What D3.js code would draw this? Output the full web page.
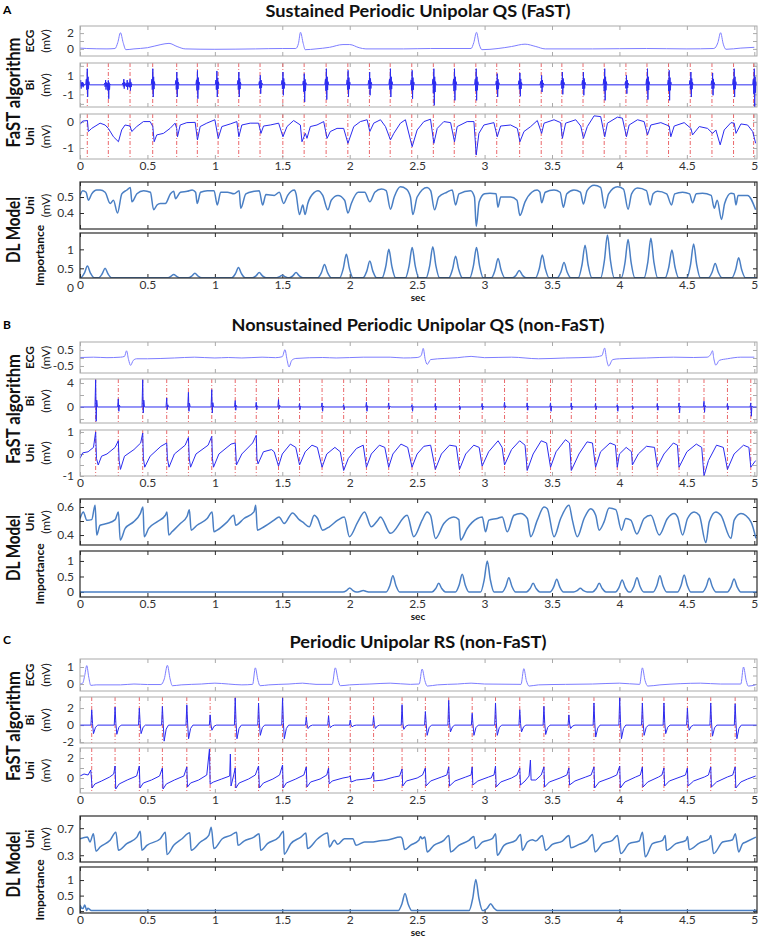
<!DOCTYPE html>
<html>
<head>
<meta charset="utf-8">
<script src="https://cdn.jsdelivr.net/npm/d3@7"></script>
<style>
  body { margin: 0; background: #fff; }
  svg text { font-family: Lato, "Open Sans", sans-serif; }
</style>
</head>
<body>
<svg id="fig" width="760" height="938"></svg>
<script>
// ---------- shared axis data ----------
var timeTicks = [0, 0.5, 1, 1.5, 2, 2.5, 3, 3.5, 4, 4.5, 5];
var timeLabels = ["0", "0.5", "1", "1.5", "2", "2.5", "3", "3.5", "4", "4.5", "5"];

// ---------- panel A : sustained periodic unipolar QS ----------
var titleA = "Sustained Periodic Unipolar QS (FaST)";
var ecgA = [[0,0.1],[0.05,0.05],[0.2,0],[0.26,0.05],[0.28,0.8],[0.3,2.05],[0.32,0.8],[0.34,-0.1],[0.4,0],[0.5,0.15],[0.6,0.55],[0.66,0.7],[0.72,0.3],[0.78,0],[1.0,-0.05],[1.3,0],[1.5,0.05],[1.6,0.05],[1.62,0.7],[1.635,2.1],[1.655,0.7],[1.67,-0.1],[1.75,0],[1.85,0.2],[1.95,0.55],[2.0,0.55],[2.07,0.15],[2.12,0],[2.4,0],[2.6,0.05],[2.9,0.05],[2.92,0.8],[2.94,2.1],[2.96,0.6],[2.98,-0.1],[3.1,0.05],[3.2,0.3],[3.3,0.6],[3.38,0.3],[3.45,0],[3.8,0],[4.2,0.05],[4.5,0],[4.7,0.05],[4.73,0.8],[4.75,2.05],[4.77,0.6],[4.79,-0.05],[4.9,0.1],[5.0,0.2]];
var actA = [0.054,0.21,0.371,0.539,0.717,0.87,1.024,1.177,1.335,1.504,1.662,1.825,1.986,2.146,2.3,2.46,2.62,2.775,2.935,3.09,3.26,3.42,3.573,3.73,3.887,4.048,4.204,4.364,4.525,4.686,4.846,4.995];
// bipolar deflections: [time, max, min]
var biA = [[0.005,0.5,-0.4],[0.02,0.3,-0.25],[0.054,1.7,-1.28],[0.19,0.5,-0.5],[0.21,0.47,-1.46],[0.325,0.6,-0.4],[0.35,0.5,-0.5],[0.371,0.6,-0.6],[0.54,1.7,-1.28],[0.718,1.35,-1.28],[0.871,1.53,-1.46],[1.015,1.46,-1.28],[1.178,1.35,-1.28],[1.337,1.0,-0.93],[1.505,1.35,-1.1],[1.663,1.18,-1.8],[1.827,1.7,-1.55],[1.988,1.53,-1.28],[2.148,1.35,-1.1],[2.302,1.7,-1.28],[2.463,1.53,-1.46],[2.624,1.7,-2.16],[2.777,1.7,-1.63],[2.938,1.7,-1.63],[3.094,1.18,-1.28],[3.262,1.25,-1.2],[3.423,1.0,-0.75],[3.577,1.35,-1.0],[3.733,1.35,-1.1],[3.891,1.7,-1.63],[4.052,1.0,-0.93],[4.208,1.7,-1.55],[4.369,1.53,-1.63],[4.53,1.35,-1.28],[4.691,1.25,-1.1],[4.851,1.7,-1.28],[5.0,1.7,-2.33]];
var uniA = [[0,-0.1],[0.02,0.03],[0.055,0.05],[0.062,-0.37],[0.087,-0.25],[0.149,-0.05],[0.186,-0.12],[0.21,-0.25],[0.248,-0.57],[0.285,-0.76],[0.309,-0.31],[0.334,-0.12],[0.371,-0.16],[0.384,-0.37],[0.421,-0.18],[0.47,0.01],[0.52,0.01],[0.54,-0.18],[0.55,-0.76],[0.569,-0.5],[0.619,-0.44],[0.668,-0.25],[0.705,-0.05],[0.717,-0.25],[0.723,-0.57],[0.743,-0.12],[0.792,-0.03],[0.854,-0.02],[0.871,-0.69],[0.891,-0.18],[0.94,-0.05],[1.0,0.08],[1.025,-0.63],[1.052,-0.18],[1.114,-0.08],[1.163,0.01],[1.178,-0.57],[1.2,-0.12],[1.262,-0.05],[1.324,-0.05],[1.342,-0.44],[1.361,-0.16],[1.411,-0.12],[1.473,-0.05],[1.505,-0.57],[1.535,-0.18],[1.584,0.05],[1.634,-0.12],[1.646,-0.76],[1.671,-0.44],[1.683,-0.63],[1.708,-0.18],[1.757,-0.12],[1.807,0.01],[1.832,-0.63],[1.856,-0.37],[1.906,-0.25],[1.955,-0.25],[1.987,-0.82],[2.03,-0.18],[2.079,0.01],[2.129,0.08],[2.149,-0.37],[2.178,-0.05],[2.228,0.08],[2.265,-0.18],[2.302,-0.69],[2.327,-0.44],[2.376,-0.05],[2.413,0.08],[2.463,-0.95],[2.5,-0.31],[2.55,0.01],[2.599,0.1],[2.624,-0.82],[2.649,-0.25],[2.698,0.01],[2.748,-0.03],[2.777,-0.76],[2.797,-0.18],[2.871,0.01],[2.921,0.01],[2.938,-1.27],[2.958,-0.44],[2.995,-0.12],[3.069,-0.03],[3.094,-0.57],[3.119,-0.16],[3.193,-0.12],[3.243,-0.25],[3.262,-0.76],[3.292,-0.37],[3.342,-0.18],[3.391,0.05],[3.423,-0.44],[3.441,-0.05],[3.515,0.08],[3.564,-0.03],[3.577,-0.63],[3.601,-0.05],[3.676,0.08],[3.713,-0.16],[3.733,-0.63],[3.762,-0.18],[3.812,0.23],[3.861,0.2],[3.891,-0.57],[3.911,-0.05],[3.985,0.18],[4.022,0.14],[4.052,-0.57],[4.072,-0.12],[4.134,0.08],[4.183,0.01],[4.208,-0.5],[4.233,-0.12],[4.307,-0.03],[4.369,-0.16],[4.381,-0.57],[4.406,-0.16],[4.48,-0.03],[4.53,-0.25],[4.542,-0.5],[4.592,-0.18],[4.653,-0.25],[4.691,-0.44],[4.715,-0.31],[4.747,-0.88],[4.777,-0.31],[4.827,-0.03],[4.851,-0.05],[4.864,-0.44],[4.901,-0.08],[4.95,-0.12],[4.988,-0.37],[5.01,-0.82]];
var dlA = [[0,0.51],[0.02,0.54],[0.045,0.53],[0.062,0.48],[0.087,0.52],[0.124,0.544],[0.149,0.544],[0.186,0.53],[0.224,0.46],[0.248,0.48],[0.278,0.40],[0.31,0.52],[0.348,0.544],[0.373,0.56],[0.385,0.47],[0.422,0.52],[0.472,0.54],[0.522,0.53],[0.546,0.42],[0.571,0.45],[0.596,0.46],[0.633,0.46],[0.671,0.52],[0.695,0.536],[0.708,0.49],[0.745,0.53],[0.795,0.536],[0.832,0.544],[0.857,0.53],[0.869,0.46],[0.894,0.53],[0.944,0.54],[0.994,0.54],[1.018,0.45],[1.043,0.53],[1.093,0.53],[1.143,0.52],[1.18,0.54],[1.192,0.43],[1.23,0.52],[1.292,0.536],[1.329,0.54],[1.354,0.45],[1.379,0.516],[1.441,0.51],[1.478,0.53],[1.51,0.46],[1.54,0.51],[1.59,0.544],[1.602,0.52],[1.627,0.39],[1.652,0.45],[1.669,0.39],[1.689,0.46],[1.739,0.53],[1.764,0.54],[1.8,0.51],[1.838,0.42],[1.863,0.48],[1.913,0.51],[1.962,0.48],[1.987,0.40],[2.012,0.46],[2.062,0.53],[2.111,0.53],[2.149,0.47],[2.186,0.53],[2.236,0.55],[2.27,0.54],[2.302,0.424],[2.33,0.5],[2.376,0.564],[2.42,0.55],[2.45,0.5],[2.468,0.39],[2.5,0.5],[2.574,0.56],[2.6,0.54],[2.629,0.42],[2.66,0.5],[2.72,0.53],[2.76,0.544],[2.785,0.45],[2.81,0.52],[2.896,0.54],[2.925,0.5],[2.938,0.316],[2.96,0.47],[3.0,0.52],[3.04,0.524],[3.085,0.52],[3.099,0.436],[3.12,0.5],[3.193,0.5],[3.24,0.48],[3.262,0.384],[3.3,0.47],[3.35,0.53],[3.39,0.544],[3.41,0.53],[3.423,0.464],[3.45,0.53],[3.515,0.544],[3.56,0.53],[3.584,0.436],[3.61,0.52],[3.663,0.544],[3.71,0.53],[3.733,0.456],[3.76,0.54],[3.812,0.574],[3.86,0.56],[3.891,0.43],[3.92,0.52],[3.985,0.564],[4.03,0.55],[4.064,0.424],[4.09,0.52],[4.134,0.556],[4.2,0.54],[4.228,0.45],[4.25,0.52],[4.282,0.536],[4.35,0.52],[4.386,0.45],[4.41,0.52],[4.468,0.53],[4.52,0.52],[4.542,0.464],[4.57,0.52],[4.616,0.524],[4.68,0.51],[4.703,0.43],[4.725,0.48],[4.757,0.36],[4.78,0.46],[4.827,0.524],[4.85,0.52],[4.864,0.45],[4.88,0.51],[4.95,0.51],[5.01,0.42]];
// importance peaks: [time, height]
var impA = [[0.055,0.56],[0.186,0.5],[0.695,0.34],[0.852,0.37],[1.175,0.52],[1.329,0.39],[1.5,0.32],[1.602,0.39],[1.813,0.6],[1.975,0.87],[2.149,0.69],[2.29,1.0],[2.463,1.05],[2.616,1.07],[2.785,0.82],[2.94,1.05],[3.1,0.76],[3.257,0.44],[3.428,0.85],[3.589,0.65],[3.745,1.11],[3.911,1.38],[4.064,1.26],[4.233,1.29],[4.389,0.98],[4.55,1.14],[4.71,0.63],[4.884,0.78]];
var impBaseA = 0.25;

// ---------- panel B : nonsustained periodic unipolar QS ----------
var titleB = "Nonsustained Periodic Unipolar QS (non-FaST)";
var ecgB = [[0,0.03],[0.1,0.05],[0.2,0.02],[0.3,0.05],[0.33,0.1],[0.345,0.45],[0.36,-0.1],[0.375,-0.46],[0.395,-0.15],[0.42,-0.05],[0.5,-0.05],[0.7,0],[0.85,0.05],[1.0,0.0],[1.1,0.03],[1.2,0.0],[1.35,0.05],[1.45,0.02],[1.5,0.08],[1.52,0.52],[1.535,-0.1],[1.55,-0.56],[1.57,-0.15],[1.6,-0.03],[1.8,0.03],[1.9,0.0],[2.1,0.05],[2.3,0.05],[2.4,0.0],[2.5,0.03],[2.53,0.15],[2.545,0.6],[2.56,-0.1],[2.575,-0.4],[2.6,-0.1],[2.7,-0.03],[2.8,0.02],[2.9,0.1],[3.0,0.02],[3.2,0.05],[3.4,-0.05],[3.6,0.0],[3.8,0.05],[3.87,0.15],[3.89,0.62],[3.905,-0.1],[3.92,-0.5],[3.95,-0.1],[4.0,-0.05],[4.2,0.0],[4.4,0.05],[4.55,0.03],[4.65,0.05],[4.675,0.2],[4.69,0.45],[4.7,-0.05],[4.715,-0.45],[4.74,-0.15],[4.8,-0.05],[4.9,0.05],[5.0,0.05]];
var actB = [0.116,0.284,0.465,0.643,0.804,0.977,1.151,1.307,1.472,1.628,1.795,1.955,2.124,2.289,2.462,2.635,2.814,2.982,3.148,3.316,3.489,3.643,3.823,3.984,4.096,4.281,4.442,4.627,4.801,4.974];
var biB = [[0.116,4.57,-2.38],[0.284,1.35,-0.71],[0.465,4.57,-1.0],[0.643,1.5,-0.43],[0.804,2.46,-0.71],[0.977,2.9,-1.0],[1.151,1.07,-0.54],[1.307,0.79,-0.43],[1.472,1.23,-0.32],[1.628,0.57,-0.43],[1.795,0.68,-0.71],[1.955,0.4,-0.43],[2.124,0.79,-0.71],[2.289,0.68,-0.32],[2.462,0.4,-0.71],[2.635,0.57,-0.54],[2.814,0.23,-0.43],[2.982,0.57,-0.43],[3.148,0.79,-0.16],[3.316,0.68,-0.54],[3.489,0.68,-0.71],[3.643,0.68,-0.43],[3.823,0.57,-0.43],[3.984,0.4,-0.71],[4.096,0.23,-0.32],[4.281,0.57,-0.54],[4.442,0.68,-1.0],[4.627,0.96,-0.88],[4.801,0.57,-0.43],[4.974,0.68,-1.54]];
var uniB = [[0,-0.2],[0.02,0.05],[0.06,0.1],[0.1,0.3],[0.116,1.0],[0.122,-0.2],[0.135,-0.5],[0.16,-0.1],[0.2,0.0],[0.26,0.3],[0.284,0.6],[0.29,-0.3],[0.3,-0.7],[0.33,-0.1],[0.4,0.2],[0.45,0.5],[0.465,0.95],[0.47,-0.2],[0.48,-0.6],[0.52,-0.1],[0.6,0.35],[0.643,0.5],[0.648,-0.2],[0.66,-0.6],[0.7,0.0],[0.78,0.4],[0.804,0.75],[0.81,-0.2],[0.82,-0.6],[0.86,0.0],[0.95,0.4],[0.977,0.8],[0.982,-0.2],[0.99,-0.6],[1.03,0.0],[1.12,0.45],[1.151,0.5],[1.16,-0.5],[1.2,0.0],[1.28,0.5],[1.307,0.85],[1.312,-0.2],[1.32,-0.45],[1.36,0.1],[1.42,0.2],[1.44,0.1],[1.472,-0.55],[1.5,0.0],[1.56,0.45],[1.6,0.3],[1.628,-0.5],[1.67,0.1],[1.72,0.4],[1.76,0.3],[1.795,-0.6],[1.83,0.0],[1.89,0.3],[1.93,0.1],[1.955,-0.75],[1.99,-0.2],[2.05,0.25],[2.1,0.4],[2.124,-0.6],[2.16,0.0],[2.22,0.4],[2.26,0.3],[2.289,-0.6],[2.32,0.0],[2.38,0.45],[2.43,0.3],[2.462,-0.6],[2.5,0.0],[2.55,0.35],[2.6,0.4],[2.635,-0.7],[2.68,0.0],[2.74,0.4],[2.79,0.35],[2.814,-0.7],[2.86,0.0],[2.92,0.4],[2.96,0.3],[2.982,-0.55],[3.03,0.1],[3.1,0.6],[3.13,0.3],[3.148,-0.5],[3.2,0.2],[3.26,0.6],[3.3,0.4],[3.316,-0.75],[3.36,0.0],[3.42,0.6],[3.46,0.5],[3.489,-0.6],[3.53,0.1],[3.6,0.65],[3.63,0.5],[3.643,-0.75],[3.7,0.0],[3.76,0.55],[3.8,0.5],[3.823,-0.6],[3.86,0.1],[3.93,0.5],[3.97,0.4],[3.984,-0.6],[4.0,0.0],[4.05,0.3],[4.09,0.1],[4.096,-0.5],[4.14,0.0],[4.2,0.35],[4.26,0.3],[4.281,-0.6],[4.33,0.0],[4.4,0.5],[4.43,0.4],[4.442,-0.6],[4.5,0.1],[4.57,0.45],[4.61,0.3],[4.627,-1.0],[4.66,-0.3],[4.72,0.4],[4.77,0.3],[4.801,-0.7],[4.85,0.0],[4.92,0.4],[4.96,0.3],[4.974,-0.6],[5.01,-0.3]];
var dlB = [[0,0.518],[0.025,0.565],[0.05,0.506],[0.087,0.51],[0.112,0.612],[0.124,0.4],[0.149,0.47],[0.199,0.482],[0.261,0.51],[0.285,0.565],[0.298,0.364],[0.335,0.447],[0.397,0.494],[0.447,0.553],[0.467,0.6],[0.476,0.388],[0.509,0.447],[0.571,0.494],[0.633,0.541],[0.645,0.565],[0.658,0.4],[0.682,0.423],[0.744,0.482],[0.794,0.534],[0.811,0.581],[0.824,0.435],[0.868,0.47],[0.943,0.518],[0.98,0.565],[0.993,0.423],[1.017,0.435],[1.092,0.494],[1.141,0.541],[1.154,0.47],[1.216,0.518],[1.29,0.565],[1.303,0.612],[1.315,0.435],[1.365,0.459],[1.439,0.506],[1.476,0.529],[1.514,0.482],[1.576,0.558],[1.625,0.51],[1.65,0.494],[1.7,0.459],[1.737,0.541],[1.762,0.518],[1.799,0.435],[1.849,0.459],[1.911,0.506],[1.96,0.529],[1.998,0.388],[2.06,0.494],[2.11,0.565],[2.159,0.459],[2.208,0.506],[2.228,0.529],[2.302,0.412],[2.426,0.541],[2.475,0.388],[2.537,0.506],[2.574,0.565],[2.599,0.541],[2.636,0.376],[2.698,0.482],[2.772,0.529],[2.809,0.51],[2.822,0.364],[2.871,0.447],[2.946,0.518],[2.983,0.529],[3.007,0.423],[3.032,0.506],[3.094,0.518],[3.131,0.529],[3.168,0.423],[3.218,0.541],[3.267,0.553],[3.317,0.518],[3.342,0.388],[3.391,0.506],[3.441,0.6],[3.465,0.588],[3.515,0.388],[3.564,0.518],[3.626,0.612],[3.651,0.506],[3.688,0.388],[3.738,0.518],[3.787,0.588],[3.824,0.541],[3.849,0.435],[3.886,0.494],[3.923,0.593],[3.973,0.581],[4.015,0.435],[4.047,0.518],[4.084,0.506],[4.129,0.407],[4.183,0.518],[4.233,0.541],[4.295,0.4],[4.356,0.518],[4.406,0.553],[4.431,0.529],[4.468,0.4],[4.505,0.518],[4.554,0.565],[4.592,0.541],[4.641,0.346],[4.666,0.494],[4.715,0.565],[4.752,0.541],[4.827,0.376],[4.851,0.506],[4.901,0.553],[4.975,0.494],[5.012,0.376]];
var impB = [[2.0,0.13],[2.1,0.05],[2.32,0.52],[2.66,0.28],[2.834,0.57],[3.02,1.0],[3.18,0.46],[3.36,0.28],[3.535,0.41],[3.71,0.12],[3.85,0.28],[4.02,0.39],[4.13,0.46],[4.3,0.52],[4.48,0.55],[4.666,0.44],[4.85,0.42]];
var impBaseB = 0;

// ---------- panel C : periodic unipolar RS ----------
var titleC = "Periodic Unipolar RS (non-FaST)";
var ecgC = [[0,0],[0.02,0.05],[0.035,0.5],[0.05,1.08],[0.065,0.4],[0.08,-0.08],[0.12,-0.05],[0.3,-0.05],[0.4,0.0],[0.5,-0.03],[0.6,-0.03],[0.625,0.3],[0.648,1.1],[0.668,0.3],[0.685,-0.1],[0.75,-0.05],[0.9,0.0],[1.0,0.05],[1.1,0.0],[1.2,-0.05],[1.28,-0.02],[1.3,0.95],[1.32,0.2],[1.335,-0.1],[1.4,-0.05],[1.55,0.0],[1.65,0.05],[1.75,-0.02],[1.87,-0.02],[1.893,0.95],[1.915,0.2],[1.93,-0.1],[2.0,-0.05],[2.15,0.0],[2.3,0.05],[2.45,-0.02],[2.515,0.0],[2.537,0.88],[2.557,0.2],[2.575,-0.12],[2.65,-0.05],[2.8,0.0],[2.9,0.05],[3.0,0.0],[3.27,-0.02],[3.291,0.9],[3.31,0.2],[3.33,-0.12],[3.4,-0.05],[3.6,-0.02],[3.8,0.0],[4.0,0.05],[4.15,-0.02],[4.17,0.95],[4.19,0.2],[4.21,-0.12],[4.3,-0.05],[4.45,0.02],[4.6,0.05],[4.75,0.0],[4.9,0.0],[4.92,1.0],[4.94,0.2],[4.955,-0.12],[5.01,-0.05]];
var actC = [0.087,0.26,0.44,0.611,0.792,0.965,1.151,1.324,1.502,1.678,1.843,2.004,2.177,2.388,2.561,2.734,2.908,3.081,3.261,3.44,3.625,3.811,4.002,4.17,4.33,4.504,4.677,4.858];
var biC = [[0.087,1.79,-1.0],[0.26,2.11,-1.08],[0.44,1.99,-1.0],[0.611,2.19,-1.88],[0.792,2.39,-1.6],[0.965,1.2,-0.6],[1.151,3.19,-1.6],[1.324,2.59,-1.2],[1.502,3.19,-1.6],[1.678,0.92,-0.4],[1.843,1.08,-0.3],[2.004,0.6,-0.2],[2.177,1.0,-0.4],[2.388,2.4,-0.5],[2.561,1.6,-1.2],[2.734,2.9,-0.8],[2.908,1.4,-1.2],[3.081,2.6,-1.2],[3.261,1.8,-0.8],[3.44,2.2,-1.1],[3.625,1.2,-0.4],[3.811,2.6,-1.4],[4.002,3.2,-1.6],[4.17,2.6,-1.2],[4.33,2.6,-1.0],[4.504,2.0,-0.6],[4.677,2.6,-1.3],[4.858,2.5,-1.6]];
var uniC = [[0,0.2],[0.03,0.4],[0.06,0.3],[0.08,0.8],[0.09,-1.0],[0.11,-0.6],[0.16,-0.3],[0.22,0.1],[0.25,0.4],[0.26,1.2],[0.265,-1.1],[0.29,-0.6],[0.35,-0.2],[0.42,0.2],[0.44,1.2],[0.445,-1.0],[0.47,-0.5],[0.53,-0.2],[0.59,0.2],[0.611,1.0],[0.616,-1.1],[0.64,-0.6],[0.7,-0.2],[0.77,0.2],[0.792,1.1],[0.797,-0.9],[0.82,-0.5],[0.88,-0.2],[0.94,0.3],[0.96,2.9],[0.965,-0.6],[0.99,-0.4],[1.05,-0.1],[1.11,0.2],[1.115,2.4],[1.12,-0.8],[1.14,0.3],[1.151,1.0],[1.156,-1.0],[1.18,-0.5],[1.25,-0.1],[1.3,0.3],[1.324,1.2],[1.33,-1.0],[1.36,-0.5],[1.43,-0.1],[1.48,0.3],[1.502,1.3],[1.507,-1.0],[1.53,-0.5],[1.6,-0.1],[1.66,0.3],[1.678,1.1],[1.683,-0.9],[1.71,-0.4],[1.78,-0.1],[1.83,0.3],[1.843,1.0],[1.848,-0.6],[1.87,-0.3],[1.95,0.0],[1.99,0.1],[2.004,0.2],[2.01,-0.4],[2.05,-0.2],[2.12,-0.1],[2.16,0.0],[2.177,0.6],[2.18,-0.3],[2.25,-0.2],[2.33,0.1],[2.37,0.2],[2.388,0.9],[2.393,-0.8],[2.42,-0.3],[2.5,0.0],[2.54,0.3],[2.561,1.0],[2.566,-0.8],[2.6,-0.3],[2.68,0.1],[2.72,0.3],[2.734,1.1],[2.74,-0.8],[2.78,-0.3],[2.86,0.1],[2.9,0.3],[2.908,1.1],[2.913,-0.7],[2.95,-0.3],[3.03,0.1],[3.07,0.3],[3.081,1.2],[3.086,-0.9],[3.12,-0.4],[3.2,0.0],[3.24,0.3],[3.261,1.0],[3.266,-0.7],[3.3,-0.3],[3.33,0.2],[3.34,1.8],[3.345,-0.2],[3.38,-0.2],[3.42,0.3],[3.44,1.1],[3.445,-0.9],[3.48,-0.4],[3.56,0.0],[3.61,0.3],[3.625,1.0],[3.63,-0.7],[3.67,-0.3],[3.75,0.1],[3.79,0.3],[3.811,1.1],[3.816,-1.0],[3.85,-0.4],[3.93,0.0],[3.98,0.3],[4.002,1.2],[4.007,-1.0],[4.04,-0.4],[4.12,0.1],[4.155,0.3],[4.17,1.1],[4.175,-0.9],[4.21,-0.4],[4.29,0.1],[4.315,0.3],[4.33,1.0],[4.335,-0.8],[4.37,-0.3],[4.45,0.1],[4.49,0.3],[4.504,1.0],[4.509,-0.8],[4.55,-0.3],[4.63,0.1],[4.66,0.3],[4.677,1.1],[4.682,-0.9],[4.72,-0.4],[4.8,0.1],[4.84,0.3],[4.858,1.1],[4.863,-1.0],[4.9,-0.4],[4.95,-0.1],[5.01,0.2]];
var dlC = [[0,0.544],[0.055,0.568],[0.074,0.495],[0.099,0.617],[0.119,0.359],[0.149,0.422],[0.223,0.52],[0.266,0.641],[0.285,0.373],[0.347,0.471],[0.422,0.568],[0.447,0.656],[0.459,0.373],[0.496,0.446],[0.596,0.544],[0.633,0.641],[0.645,0.31],[0.695,0.446],[0.757,0.544],[0.814,0.632],[0.824,0.373],[0.893,0.495],[0.955,0.593],[0.973,0.715],[0.993,0.398],[1.055,0.544],[1.117,0.593],[1.161,0.641],[1.171,0.446],[1.216,0.51],[1.29,0.568],[1.328,0.617],[1.34,0.373],[1.39,0.471],[1.476,0.568],[1.509,0.656],[1.514,0.315],[1.563,0.471],[1.638,0.568],[1.675,0.627],[1.687,0.398],[1.762,0.544],[1.836,0.627],[1.849,0.422],[1.886,0.52],[1.911,0.461],[1.961,0.544],[2.023,0.544],[2.047,0.446],[2.11,0.495],[2.159,0.495],[2.215,0.51],[2.29,0.529],[2.376,0.568],[2.389,0.544],[2.408,0.383],[2.45,0.446],[2.512,0.52],[2.525,0.578],[2.537,0.544],[2.557,0.568],[2.574,0.349],[2.624,0.446],[2.698,0.52],[2.735,0.593],[2.748,0.349],[2.809,0.446],[2.884,0.52],[2.921,0.578],[2.933,0.398],[2.983,0.495],[3.057,0.544],[3.082,0.617],[3.094,0.3],[3.144,0.446],[3.231,0.52],[3.267,0.608],[3.28,0.373],[3.317,0.495],[3.354,0.529],[3.379,0.51],[3.428,0.593],[3.453,0.373],[3.502,0.461],[3.577,0.51],[3.626,0.593],[3.639,0.412],[3.701,0.461],[3.762,0.52],[3.8,0.608],[3.819,0.349],[3.874,0.471],[3.948,0.52],[3.985,0.593],[4.01,0.324],[4.072,0.471],[4.146,0.51],[4.171,0.641],[4.191,0.276],[4.245,0.471],[4.319,0.52],[4.339,0.593],[4.349,0.373],[4.418,0.471],[4.493,0.52],[4.505,0.578],[4.517,0.383],[4.592,0.48],[4.666,0.544],[4.678,0.593],[4.698,0.324],[4.765,0.495],[4.839,0.529],[4.859,0.617],[4.884,0.349],[4.913,0.471],[4.938,0.495],[5.012,0.568]];
var impC = [[0.0,0.19],[0.035,0.2],[2.41,0.57],[2.935,1.02],[3.045,0.24]];
var impBaseC = 0.02;

// ---------- y axis ticks per row ----------
var yTicks = {
  A: {ecg: [[0,"0"],[1,""],[2,"2"]], bi: [[-2,""],[-1,"-1"],[0,""],[1,"1"],[2,""]], uni: [[-1,"-1"],[-0.5,""],[0,"0"]], dl: [[0.4,"0.4"],[0.5,"0.5"]], imp: [[0,"0"],[0.5,"0.5"],[1,"1"]]},
  B: {ecg: [[-0.5,"-0.5"],[0,""],[0.5,"0.5"]], bi: [[-2,""],[0,"0"],[2,""],[4,"4"]], uni: [[-1,"-1"],[-0.5,""],[0,"0"],[0.5,""],[1,"1"]], dl: [[0.4,"0.4"],[0.5,""],[0.6,"0.6"]], imp: [[0,"0"],[0.5,"0.5"],[1,"1"]]},
  C: {ecg: [[0,"0"],[0.5,""],[1,"1"]], bi: [[-2,"-2"],[0,"0"],[2,"2"]], uni: [[-1,""],[0,"0"],[1,""],[2,"2"]], dl: [[0.3,"0.3"],[0.7,"0.7"]], imp: [[0,"0"],[0.5,"0.5"],[1,"1"]]}
};

// ---------- layout ----------
var svg = d3.select('#fig');
var x = d3.scaleLinear().domain([0, 5.02]).range([80, 757]);
var clipN = 0;

var panels = [
  {key: 'A', title: titleA, titleW: 305, letterY: 14, titleY: 17,
   rows: {ecg: [26, 56, -0.9, 2.9], bi: [63, 107, -2.33, 2.3], uni: [114, 159, -1.42, 0.3], dl: [182, 229, 0.3, 0.594], imp: [233, 278, 0.245, 1.43]},
   ecg: ecgA, act: actA, bi: biA, uni: uniA, dl: dlA, imp: impA, impBase: impBaseA, spike: 'burst'},
  {key: 'B', title: titleB, titleW: 373, letterY: 329, titleY: 331,
   rows: {ecg: [342, 373, -0.94, 1.0], bi: [379, 423, -2.67, 4.67], uni: [430, 476, -1.0, 1.09], dl: [499, 545, 0.329, 0.657], imp: [551, 597, -0.16, 1.32]},
   ecg: ecgB, act: actB, bi: biB, uni: uniB, dl: dlB, imp: impB, impBase: impBaseB, spike: 'sharp'},
  {key: 'C', title: titleC, titleW: 257, letterY: 644, titleY: 648,
   rows: {ecg: [659, 691, -0.41, 1.47], bi: [697, 743, -2.1, 3.3], uni: [748, 793, -1.5, 3.0], dl: [816, 862, 0.2, 0.88], imp: [867, 913, -0.06, 1.42]},
   ecg: ecgC, act: actC, bi: biC, uni: uniC, dl: dlC, imp: impC, impBase: impBaseC, spike: 'rs'}
];

var fastBlue = '#2b2bf0', ecgBlue = '#7d7dff', dlBlue = '#4a7fc4', actRed = '#e8575a';

function makeRow(r, ticks, dark, xLabels) {
  var top = r[0], bot = r[1];
  var y = d3.scaleLinear().domain([r[2], r[3]]).range([bot, top]);
  var g = svg.append('g');
  var col = dark ? '#2a2a2a' : '#aaaaaa';
  var id = 'clip' + (clipN++);
  svg.append('clipPath').attr('id', id).append('rect')
    .attr('x', 80).attr('y', top).attr('width', 677).attr('height', bot - top);

  var tv = ticks.map(function (d) { return d[0]; });
  var tl = ticks.map(function (d) { return d[1]; });
  var yl = g.append('g').attr('transform', 'translate(80,0)')
    .call(d3.axisLeft(y).tickValues(tv).tickSizeInner(-4).tickSizeOuter(0).tickPadding(6)
      .tickFormat(function (d, i) { return tl[i]; }));
  var yr = g.append('g').attr('transform', 'translate(757,0)')
    .call(d3.axisRight(y).tickValues(tv.filter(function (v) { return v >= r[2] && v <= r[3]; }))
      .tickSizeInner(-4).tickSizeOuter(0).tickFormat(''));
  var xt = g.append('g').attr('transform', 'translate(0,' + top + ')')
    .call(d3.axisTop(x).tickValues(timeTicks).tickSizeInner(-4).tickSizeOuter(0).tickFormat(''));
  var xb = g.append('g').attr('transform', 'translate(0,' + bot + ')')
    .call(d3.axisBottom(x).tickValues(timeTicks).tickSizeInner(-4).tickSizeOuter(0).tickPadding(2)
      .tickFormat(function (d, i) { return xLabels ? timeLabels[i] : ''; }));
  [yl, yr, xt, xb].forEach(function (a) {
    a.select('.domain').remove();
    a.attr('font-family', null);
    a.selectAll('line').attr('stroke', col);
    a.selectAll('text').attr('fill', '#333').style('font-size', '12px');
  });
  // hide tick marks that fall outside the box
  yl.selectAll('.tick').each(function (d) {
    if (d < r[2] || d > r[3]) d3.select(this).select('line').remove();
  });
  var plot = g.append('g').attr('clip-path', 'url(#' + id + ')');
  g.append('rect').attr('x', 80).attr('y', top).attr('width', 677).attr('height', bot - top)
    .attr('fill', 'none').attr('stroke', col).attr('stroke-width', dark ? 1.2 : 1);
  return {y: y, plot: plot, top: top, bot: bot};
}

function lineOf(y, curve) {
  return d3.line().x(function (d) { return x(d[0]); }).y(function (d) { return y(d[1]); })
    .curve(curve || d3.curveLinear);
}

// spike glyph shapes for bipolar deflections (offsets in s, fraction of max/min)
var glyphs = {
  burst: [[-0.012,0,0],[-0.007,0.35,0],[-0.004,0,0.4],[0,1,0],[0.003,0,1],[0.006,0.5,0],[0.009,0,0.35],[0.012,0.2,0],[0.016,0,0]],
  sharp: [[-0.005,0,0],[0,1,0],[0.004,0,1],[0.008,0.25,0],[0.013,0,0]],
  rs: [[-0.006,0,0],[0,1,0],[0.006,0.1,0],[0.013,0,1],[0.028,0,0.25],[0.045,0,0]]
};
function biPath(spikes, kind) {
  var pts = [[0, 0]];
  spikes.forEach(function (s) {
    glyphs[kind].forEach(function (g) {
      pts.push([s[0] + g[0], g[1] * s[1] + g[2] * s[2]]);
    });
  });
  pts.push([5.02, 0]);
  return pts;
}
function impPath(peaks, base) {
  var w = 0.05, pts = [[0, base]];
  peaks.forEach(function (p) {
    var m = base + (p[1] - base) * 0.4;
    pts.push([p[0] - w, base], [p[0] - w * 0.45, m], [p[0], p[1]], [p[0] + w * 0.45, m], [p[0] + w, base]);
  });
  pts.push([5.02, base]);
  pts = pts.filter(function (d) { return d[0] >= 0; });
  pts.sort(function (a, b) { return a[0] - b[0]; });
  return pts;
}

function rotLabel(xp, yc, txt, size, weight, len) {
  var t = svg.append('text').attr('transform', 'translate(' + xp + ',' + yc + ') rotate(-90)')
    .attr('text-anchor', 'middle').style('font-size', size + 'px').style('font-weight', weight)
    .attr('fill', '#111').text(txt);
  if (len) t.attr('textLength', len).attr('lengthAdjust', 'spacingAndGlyphs');
}

panels.forEach(function (p) {
  var R = p.rows, T = yTicks[p.key];
  svg.append('text').attr('x', 3).attr('y', p.letterY).style('font-size', '12px')
    .style('font-weight', 'bold').text(p.key);
  svg.append('text').attr('x', 418).attr('y', p.titleY).attr('text-anchor', 'middle')
    .style('font-size', '17px').style('font-weight', 'bold')
    .attr('textLength', p.titleW).attr('lengthAdjust', 'spacingAndGlyphs')
    .attr('fill', '#111').text(p.title);

  var ecg = makeRow(R.ecg, T.ecg, false, false);
  var bi = makeRow(R.bi, T.bi, false, false);
  var uni = makeRow(R.uni, T.uni, false, true);
  var dl = makeRow(R.dl, T.dl, true, false);
  var imp = makeRow(R.imp, T.imp, true, true);

  // activation markers
  [bi, uni].forEach(function (row) {
    row.plot.selectAll('line.act').data(p.act).enter().append('line')
      .attr('x1', function (d) { return x(d); }).attr('x2', function (d) { return x(d); })
      .attr('y1', row.top).attr('y2', row.bot)
      .attr('stroke', actRed).attr('stroke-width', 0.9).attr('stroke-dasharray', '4,2,1,2');
  });

  ecg.plot.append('path').datum(p.ecg).attr('d', lineOf(ecg.y, d3.curveMonotoneX))
    .attr('fill', 'none').attr('stroke', ecgBlue).attr('stroke-width', 1);
  bi.plot.append('path').datum(biPath(p.bi, p.spike)).attr('d', lineOf(bi.y))
    .attr('fill', 'none').attr('stroke', fastBlue).attr('stroke-width', 1);
  uni.plot.append('path').datum(p.uni).attr('d', lineOf(uni.y))
    .attr('fill', 'none').attr('stroke', fastBlue).attr('stroke-width', 1);
  dl.plot.append('path').datum(p.dl).attr('d', lineOf(dl.y, d3.curveMonotoneX))
    .attr('fill', 'none').attr('stroke', dlBlue).attr('stroke-width', 1.5);
  imp.plot.append('path').datum(impPath(p.imp, p.impBase)).attr('d', lineOf(imp.y, d3.curveMonotoneX))
    .attr('fill', 'none').attr('stroke', dlBlue).attr('stroke-width', 1.5);

  // side labels
  rotLabel(20, (R.ecg[0] + R.uni[1]) / 2, 'FaST algorithm', 18, 'bold', 110);
  rotLabel(20, (R.dl[0] + R.imp[1]) / 2, 'DL Model', 18, 'bold', 66);
  [[ecg, 'ECG'], [bi, 'Bi'], [uni, 'Uni'], [dl, 'Uni']].forEach(function (a) {
    var yc = (a[0].top + a[0].bot) / 2;
    rotLabel(34, yc, a[1], 12, 'bold');
    rotLabel(50, yc, '(mV)', 12, 'normal');
  });
  rotLabel(44, (imp.top + imp.bot) / 2, 'Importance', 12, 'bold');
  svg.append('text').attr('x', 418).attr('y', imp.bot + 22.8).attr('text-anchor', 'middle')
    .style('font-size', '10px').style('font-weight', 'bold').attr('fill', '#111').text('sec');
});
</script>
</body>
</html>
